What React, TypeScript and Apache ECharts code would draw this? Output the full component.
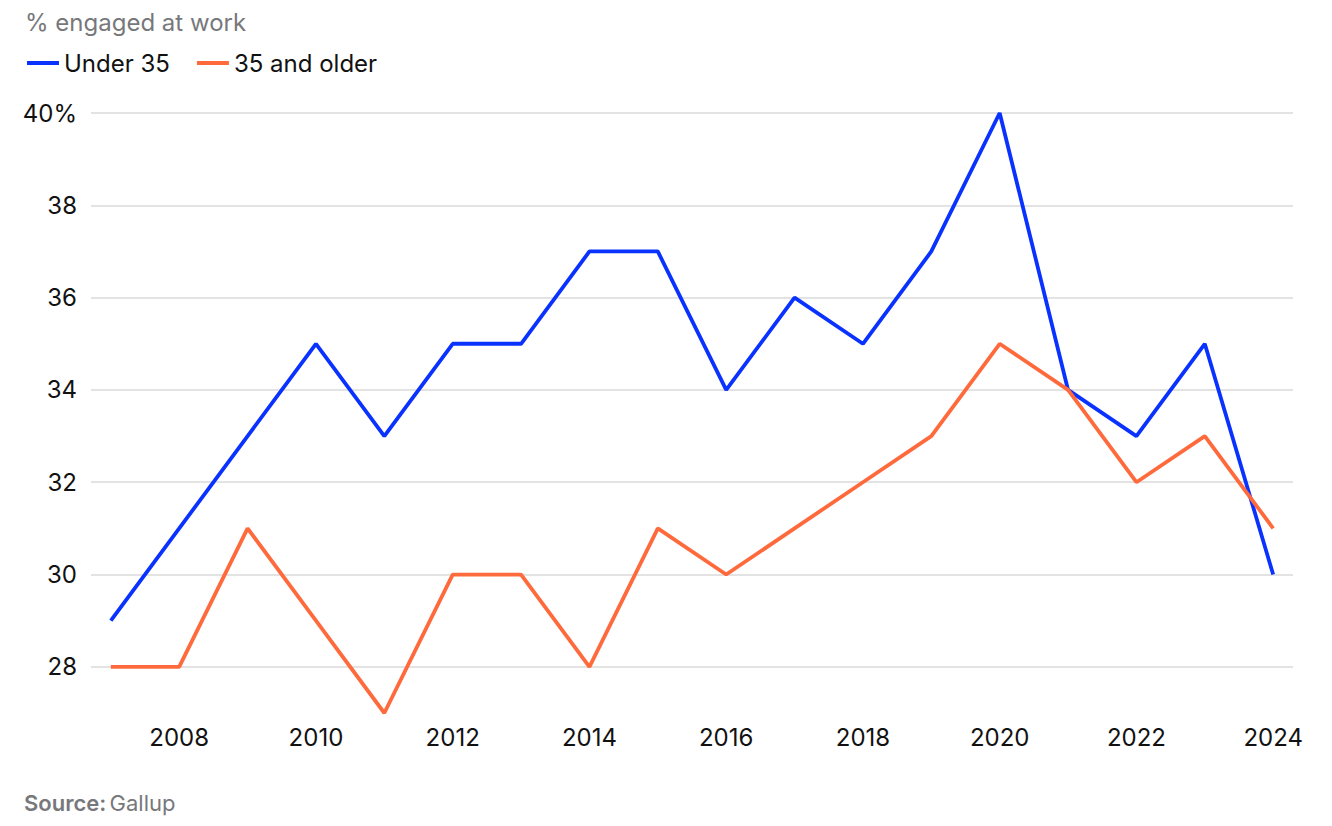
import React, { useEffect, useRef } from "react";
import * as echarts from "echarts";

const years = [2007, 2008, 2009, 2010, 2011, 2012, 2013, 2014, 2015, 2016, 2017, 2018, 2019, 2020, 2021, 2022, 2023, 2024];
const under35 = [29, 31, 33, 35, 33, 35, 35, 37, 37, 34, 36, 35, 37, 40, 34, 33, 35, 30];
const older35 = [28, 28, 31, 29, 27, 30, 30, 28, 31, 30, 31, 32, 33, 35, 34, 32, 33, 31];
const xTicks = [2008, 2010, 2012, 2014, 2016, 2018, 2020, 2022, 2024];
const yTicks = [28, 30, 32, 34, 36, 38, 40];

const FONT = "Inter, 'Noto Sans', sans-serif";
const BLUE = "#0a32ff";
const ORANGE = "#ff6a3d";

export default function App() {
  const ref = useRef<HTMLDivElement>(null);
  useEffect(() => {
    if (!ref.current) return;
    const chart = echarts.init(ref.current, null, { renderer: "svg" });
    chart.setOption({
      animation: false,
      backgroundColor: "#ffffff",
      textStyle: { fontFamily: FONT },
      grid: { left: 91, right: 39, top: 113, bottom: 113 },
      legend: {
        left: 22,
        top: 46,
        itemWidth: 32,
        itemHeight: 4,
        itemGap: 27,
        icon: "rect",
        textStyle: { fontFamily: FONT, fontSize: 24, color: "#111111", padding: [0, 0, 0, 0] },
        data: ["Under 35", "35 and older"],
      },
      graphic: [
        {
          type: "text",
          left: 25,
          top: 10,
          style: { text: "% engaged at work", fontFamily: FONT, fontSize: 24, fill: "#77787b" },
        },
        {
          type: "text",
          left: 24,
          top: 792,
          style: {
            text: "{b|Source:} {r|Gallup}",
            rich: {
              b: { fontFamily: FONT, fontSize: 22, fontWeight: 600, fill: "#77787b", color: "#77787b" },
              r: { fontFamily: FONT, fontSize: 22, fill: "#77787b", color: "#77787b" },
            },
          },
        },
      ],
      xAxis: {
        type: "value",
        min: 2006.71,
        max: 2024.29,
        axisLine: { show: false },
        axisTick: { show: false, customValues: xTicks },
        splitLine: { show: false },
        axisLabel: {
          customValues: xTicks,
          margin: 12,
          fontFamily: FONT,
          fontSize: 24,
          color: "#111111",
          formatter: (v: number) => String(Math.round(v)),
        },
      },
      yAxis: {
        type: "value",
        min: 27,
        max: 40,
        axisLine: { show: false },
        axisTick: { show: false, customValues: yTicks },
        splitLine: { show: true, lineStyle: { color: "#e3e3e3", width: 2 } },
        axisLabel: {
          customValues: yTicks,
          margin: 14,
          fontFamily: FONT,
          fontSize: 24,
          color: "#111111",
          formatter: (v: number) => (v === 40 ? "40%" : String(v)),
        },
      },
      series: [
        {
          name: "Under 35",
          type: "line",
          data: years.map((y, i) => [y, under35[i]]),
          showSymbol: false,
          symbol: "none",
          color: BLUE,
          lineStyle: { width: 3.8, color: BLUE },
        },
        {
          name: "35 and older",
          type: "line",
          data: years.map((y, i) => [y, older35[i]]),
          showSymbol: false,
          symbol: "none",
          color: ORANGE,
          lineStyle: { width: 3.8, color: ORANGE },
        },
      ],
    });
    return () => chart.dispose();
  }, []);
  return (
    <div
      ref={ref}
      style={{ position: "fixed", left: 0, top: 0, width: "1332px", height: "826px" }}
    />
  );
}
